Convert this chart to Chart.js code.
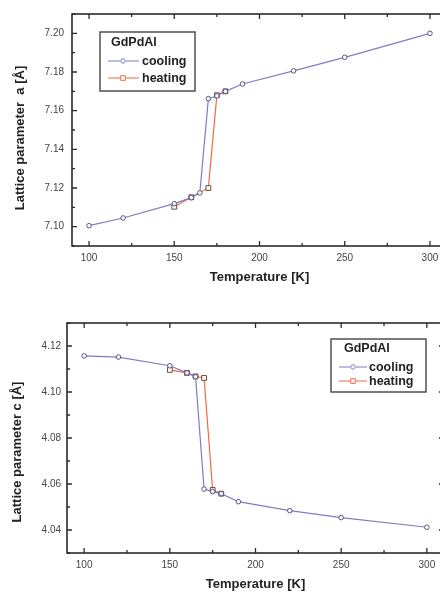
<!DOCTYPE html>
<html><head><meta charset="utf-8">
<script src="https://cdn.jsdelivr.net/npm/chart.js@4"></script>
<style>
html,body{margin:0;padding:0;background:#fff;overflow:hidden;width:440px;height:592px}
.wrap{position:absolute;left:0;overflow:hidden;width:440px}
#w1{top:0;height:296px}
#w2{top:300px;height:292px}
canvas{display:block}
</style></head><body>
<div class="wrap" id="w1"><canvas id="c1" width="452" height="296"></canvas></div>
<div class="wrap" id="w2"><canvas id="c2" width="452" height="292"></canvas></div>
<script>
// ---- data ----
const xTicks = [100, 150, 200, 250, 300];
const yTicksA = [7.10, 7.12, 7.14, 7.16, 7.18, 7.20];
const yTicksC = [4.04, 4.06, 4.08, 4.10, 4.12];

const coolTempA = [100, 120, 150, 160, 165, 170, 175, 180, 190, 220, 250, 300];
const coolA     = [7.1005, 7.1045, 7.1119, 7.1150, 7.1175, 7.1662, 7.1676, 7.1700, 7.1738, 7.1806, 7.1876, 7.2000];
const heatTempA = [150, 160, 170, 175, 180];
const heatA     = [7.1103, 7.1152, 7.1200, 7.1680, 7.1700];

const coolTempC = [100, 120, 150, 160, 165, 170, 175, 180, 190, 220, 250, 300];
const coolC     = [4.1157, 4.1152, 4.1114, 4.1083, 4.1066, 4.0578, 4.0567, 4.0558, 4.0523, 4.0484, 4.0454, 4.0412];
const heatTempC = [150, 160, 165, 170, 175, 180];
const heatC     = [4.1096, 4.1083, 4.1068, 4.1061, 4.0574, 4.0558];

const seriesNames = ['cooling', 'heating'];
const legendTitle = 'GdPdAl';

// ---- style ----
const FONT = '"Liberation Sans", Arial, sans-serif';
const BLUE = '#7d7dc6';
const ORANGE = '#ee6b3e';

function pts(xs, ys) { return xs.map((x, i) => ({ x: x, y: ys[i] })); }
function mids(arr) { const m = []; for (let i = 0; i < arr.length - 1; i++) m.push((arr[i] + arr[i + 1]) / 2); return m; }

const framePlugin = {
  id: 'frame',
  afterDraw(chart) {
    const o = chart.config.options.plugins.frame;
    const ctx = chart.ctx, a = chart.chartArea;
    const xs = chart.scales.x, ys = chart.scales.y;
    ctx.save();
    ctx.strokeStyle = '#2b2b2b';
    ctx.lineWidth = 1.6;
    ctx.strokeRect(a.left, a.top, a.right - a.left, a.bottom - a.top);
    ctx.lineWidth = 1.3;
    const xMaj = xTicks, xMin = mids(xTicks).concat([xTicks[xTicks.length - 1] + 25]);
    const yMaj = o.yTicks, yMin = mids(o.yTicks).concat([o.yTicks[0] - 0.01, o.yTicks[o.yTicks.length - 1] + 0.01]);
    ctx.beginPath();
    function xt(v, len) {
      const p = xs.getPixelForValue(v);
      ctx.moveTo(p, a.bottom); ctx.lineTo(p, a.bottom - len);
      ctx.moveTo(p, a.top); ctx.lineTo(p, a.top + len);
    }
    function yt(v, len) {
      const p = ys.getPixelForValue(v);
      ctx.moveTo(a.left, p); ctx.lineTo(a.left + len, p);
      ctx.moveTo(a.right, p); ctx.lineTo(a.right - len, p);
    }
    xMaj.forEach(v => xt(v, 5)); xMin.forEach(v => xt(v, 3));
    yMaj.forEach(v => yt(v, 5)); yMin.forEach(v => yt(v, 3));
    ctx.stroke();

    // y title
    ctx.fillStyle = '#222';
    ctx.font = 'bold 13px ' + FONT;
    ctx.textAlign = 'center'; ctx.textBaseline = 'middle';
    ctx.translate(o.yTitleX, o.yTitleY);
    ctx.rotate(-Math.PI / 2);
    ctx.fillText(o.yTitle, 0, 0);
    ctx.setTransform(1, 0, 0, 1, 0, 0);

    // legend
    const L = o.legend;
    ctx.fillStyle = '#fff';
    ctx.fillRect(L.x, L.y, L.w, L.h);
    ctx.strokeStyle = '#444'; ctx.lineWidth = 1.4;
    ctx.strokeRect(L.x, L.y, L.w, L.h);
    ctx.fillStyle = '#222';
    ctx.textAlign = 'left'; ctx.textBaseline = 'middle';
    ctx.font = 'bold 12.5px ' + FONT;
    ctx.fillText(legendTitle, L.titleX, L.rows[0]);
    const cols = [BLUE, ORANGE];
    seriesNames.forEach((name, i) => {
      const y = L.rows[i + 1];
      ctx.strokeStyle = cols[i]; ctx.lineWidth = 1.2;
      ctx.beginPath(); ctx.moveTo(L.lx0, y); ctx.lineTo(L.mx - 3, y);
      ctx.moveTo(L.mx + 3, y); ctx.lineTo(L.lx1, y); ctx.stroke();
      ctx.strokeStyle = cols[i]; ctx.lineWidth = 1;
      ctx.beginPath();
      if (i === 0) ctx.arc(L.mx, y, 2.2, 0, Math.PI * 2);
      else ctx.rect(L.mx - 2.3, y - 2.3, 4.6, 4.6);
      ctx.stroke();
      ctx.fillStyle = '#222';
      ctx.font = 'bold 12.5px ' + FONT;
      ctx.fillText(name, L.tx, y + 0.5);
    });
    ctx.restore();
  }
};

function makeChart(id, c) {
  return new Chart(document.getElementById(id), {
    type: 'line',
    data: {
      datasets: [
        { label: seriesNames[0], data: pts(c.coolT, c.coolV), borderColor: BLUE, borderWidth: 1.2,
          pointStyle: 'circle', pointRadius: 2.3, pointBorderWidth: 1, pointBorderColor: '#55557e',
          pointBackgroundColor: 'rgba(255,255,255,0.9)', tension: 0, fill: false },
        { label: seriesNames[1], data: pts(c.heatT, c.heatV), borderColor: ORANGE, borderWidth: 1.2,
          pointStyle: 'rect', pointRadius: 3.4, pointBorderWidth: 1, pointBorderColor: '#6e4a3e',
          pointBackgroundColor: 'rgba(255,255,255,0.9)', tension: 0, fill: false }
      ]
    },
    options: {
      responsive: false, animation: false, devicePixelRatio: 1,
      layout: { padding: { top: c.padTop, right: c.padRight, left: 0, bottom: 0 } },
      plugins: {
        legend: { display: false }, tooltip: { enabled: false },
        frame: { yTicks: c.yTicks, yTitle: c.yTitle, yTitleX: c.yTitleX, yTitleY: c.yTitleY, legend: c.legend }
      },
      scales: {
        x: {
          type: 'linear', min: 90, max: 310,
          afterBuildTicks(s) { s.ticks = xTicks.map(v => ({ value: v })); },
          afterFit(s) { s.height = c.xH; },
          grid: { display: false, drawTicks: false }, border: { display: false },
          ticks: { padding: c.xPad, maxRotation: 0, autoSkip: false, color: '#444', font: { family: FONT, size: 10 },
                   callback: v => String(v) },
          title: { display: true, text: 'Temperature [K]', color: '#222',
                   font: { family: FONT, size: 13, weight: 'bold' }, padding: { top: 0, bottom: c.xTitlePad } }
        },
        y: {
          type: 'linear', min: c.yMin, max: c.yMax,
          afterBuildTicks(s) { s.ticks = c.yTicks.map(v => ({ value: v })); },
          afterFit(s) { s.width = c.yW; },
          grid: { display: false, drawTicks: false }, border: { display: false },
          ticks: { padding: c.yPad, autoSkip: false, color: '#444', font: { family: FONT, size: 10 },
                   callback: v => v.toFixed(2) }
        }
      }
    },
    plugins: [framePlugin]
  });
}

makeChart('c1', {
  coolT: coolTempA, coolV: coolA, heatT: heatTempA, heatV: heatA,
  yTicks: yTicksA, yMin: 7.09, yMax: 7.21,
  padTop: 11, padRight: 5, xH: 50, yW: 72, xPad: 6.5, yPad: 8, xTitlePad: 11,
  yTitle: 'Lattice parameter  a [Å]', yTitleX: 20, yTitleY: 138,
  legend: { x: 100, y: 32, w: 95, h: 59, titleX: 111, rows: [43, 61, 78], lx0: 108, lx1: 139, mx: 123, tx: 142 }
});
makeChart('c2', {
  coolT: coolTempC, coolV: coolC, heatT: heatTempC, heatV: heatC,
  yTicks: yTicksC, yMin: 4.03, yMax: 4.13,
  padTop: 23, padRight: 8, xH: 39, yW: 67, xPad: 6, yPad: 6, xTitlePad: 0,
  yTitle: 'Lattice parameter c [Å]', yTitleX: 17, yTitleY: 152,
  legend: { x: 331, y: 39, w: 95, h: 53, titleX: 344, rows: [49, 67, 81], lx0: 339, lx1: 367, mx: 353, tx: 369 }
});
</script>
</body></html>
